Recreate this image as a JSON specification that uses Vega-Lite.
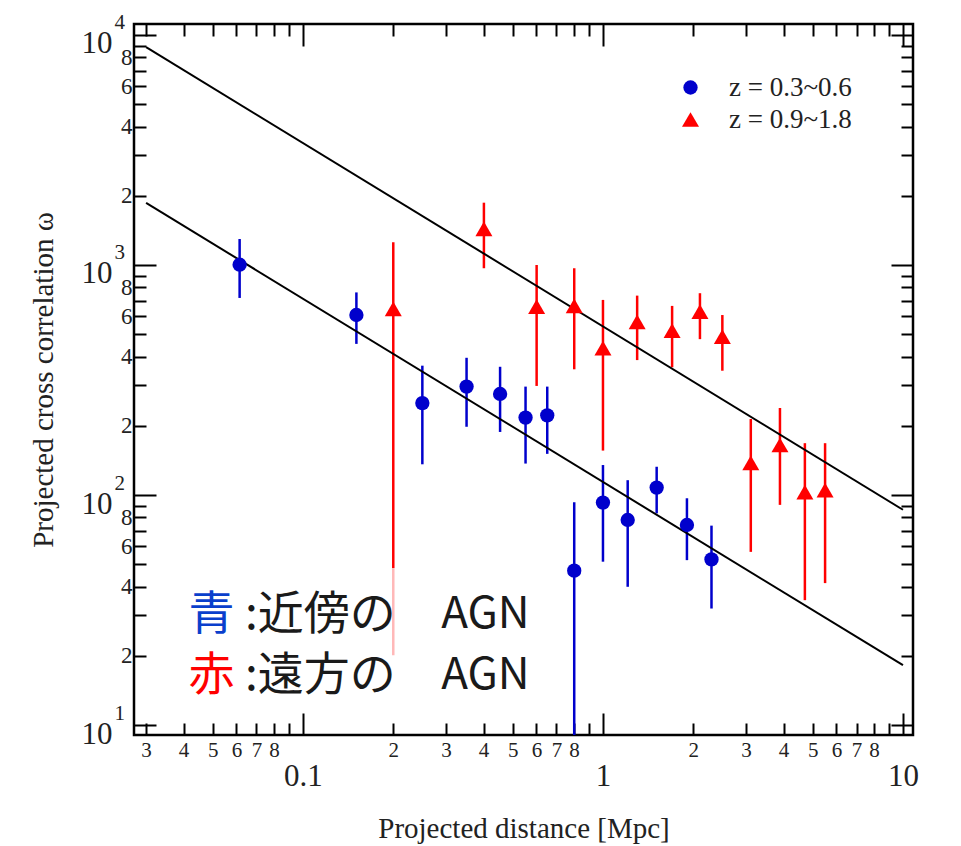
{
  "$schema": "https://vega.github.io/schema/vega-lite/v6.json",
  "width": 779,
  "height": 711,
  "autosize": {"type": "none"},
  "padding": {"left": 134, "top": 24, "right": 48, "bottom": 111},
  "background": "white",
  "config": {
    "font": "Liberation Serif",
    "view": {"stroke": "black", "strokeWidth": 2.5},
    "axis": {
      "grid": false, "domain": false, "tickColor": "black", "tickWidth": 2,
      "labelOverlap": false, "labelFlush": false, "labelBound": false,
      "labelColor": "#222", "labelFont": "Liberation Serif",
      "titleFont": "Liberation Serif", "titleColor": "#222", "titleFontWeight": "normal"
    }
  },
  "datasets": {
    "obs": [
      {"z": "z = 0.3~0.6", "r": 0.0615, "w": 1003, "lo": 719, "hi": 1297},
      {"z": "z = 0.3~0.6", "r": 0.1507, "w": 606, "lo": 454, "hi": 760},
      {"z": "z = 0.3~0.6", "r": 0.250, "w": 251, "lo": 136, "hi": 365},
      {"z": "z = 0.3~0.6", "r": 0.351, "w": 296, "lo": 198, "hi": 395},
      {"z": "z = 0.3~0.6", "r": 0.454, "w": 275, "lo": 188, "hi": 361},
      {"z": "z = 0.3~0.6", "r": 0.552, "w": 217, "lo": 137, "hi": 296},
      {"z": "z = 0.3~0.6", "r": 0.652, "w": 222, "lo": 151, "hi": 296},
      {"z": "z = 0.3~0.6", "r": 0.802, "w": 46.9, "lo": 5, "hi": 92.9},
      {"z": "z = 0.3~0.6", "r": 1.0, "w": 92.7, "lo": 51.3, "hi": 135},
      {"z": "z = 0.3~0.6", "r": 1.209, "w": 77.9, "lo": 39.9, "hi": 116},
      {"z": "z = 0.3~0.6", "r": 1.51, "w": 107.7, "lo": 83.2, "hi": 132.7},
      {"z": "z = 0.3~0.6", "r": 1.905, "w": 74.1, "lo": 52.1, "hi": 96.8},
      {"z": "z = 0.3~0.6", "r": 2.30, "w": 52.5, "lo": 32.1, "hi": 73.6},
      {"z": "z = 0.9~1.8", "r": 0.200, "w": 644, "lo": 20.1, "hi": 1256},
      {"z": "z = 0.9~1.8", "r": 0.401, "w": 1435, "lo": 968, "hi": 1866},
      {"z": "z = 0.9~1.8", "r": 0.601, "w": 659, "lo": 298, "hi": 1000},
      {"z": "z = 0.9~1.8", "r": 0.802, "w": 664, "lo": 352, "hi": 968},
      {"z": "z = 0.9~1.8", "r": 1.0, "w": 435, "lo": 156, "hi": 705},
      {"z": "z = 0.9~1.8", "r": 1.30, "w": 566, "lo": 386, "hi": 736},
      {"z": "z = 0.9~1.8", "r": 1.70, "w": 518, "lo": 359, "hi": 664},
      {"z": "z = 0.9~1.8", "r": 2.105, "w": 627, "lo": 476, "hi": 754},
      {"z": "z = 0.9~1.8", "r": 2.50, "w": 488, "lo": 347, "hi": 606},
      {"z": "z = 0.9~1.8", "r": 3.11, "w": 138, "lo": 56.6, "hi": 214},
      {"z": "z = 0.9~1.8", "r": 3.89, "w": 165, "lo": 90.6, "hi": 239},
      {"z": "z = 0.9~1.8", "r": 4.71, "w": 103, "lo": 34.9, "hi": 168},
      {"z": "z = 0.9~1.8", "r": 5.5, "w": 105, "lo": 41.4, "hi": 168}
    ],
    "fit": [
      {"fit": "near", "r": 0.03, "w": 1862},
      {"fit": "near", "r": 10, "w": 18.2},
      {"fit": "far", "r": 0.03, "w": 8850},
      {"fit": "far", "r": 10, "w": 86.3}
    ],
    "box": [
      {"r1": 0.04, "r2": 0.55, "w1": 12.5, "w2": 48.2}
    ],
    "notes": [
      {"kind": "blue", "r": 0.0415, "w": 30.1, "text": "青"},
      {"kind": "red", "r": 0.0415, "w": 16.3, "text": "赤"},
      {"kind": "jp", "r": 0.0641, "w": 30.1, "text": ":近傍の"},
      {"kind": "jp", "r": 0.0641, "w": 16.3, "text": ":遠方の"},
      {"kind": "latin", "r": 0.289, "w": 30.1, "text": "AGN"},
      {"kind": "latin", "r": 0.289, "w": 16.3, "text": "AGN"}
    ]
  },
  "layer": [
    {
      "data": {"name": "obs"},
      "transform": [{"filter": "datum.z == 'z = 0.3~0.6'"}],
      "mark": {"type": "rule", "color": "#0000CC", "strokeWidth": 2.5, "clip": true},
      "encoding": {
        "x": {"field": "r", "type": "quantitative", "scale": {"type": "log", "domain": [0.02734, 10.8]},
          "axis": {"orient": "bottom", "values": [0.03,0.04,0.05,0.06,0.07,0.08,0.09,0.2,0.3,0.4,0.5,0.6,0.7,0.8,0.9,2,3,4,5,6,7,8,9],
            "tickSize": -12, "labelPadding": 16, "labelFontSize": 21, "labelBaseline": "top",
            "labelExpr": "round(datum.value / pow(10, floor(log(datum.value) / LN10 + 0.000001))) == 9 ? '' : '' + round(datum.value / pow(10, floor(log(datum.value) / LN10 + 0.000001)))",
            "title": null}},
        "y": {"field": "lo", "type": "quantitative", "scale": {"type": "log", "domain": [9.05, 11162]},
          "axis": {"orient": "left", "values": [20,30,40,50,60,70,80,90,200,300,400,500,600,700,800,900,2000,3000,4000,5000,6000,7000,8000,9000],
            "tickSize": -12, "labelPadding": 14, "labelFontSize": 23,
            "labelExpr": "round(datum.value / pow(10, floor(log(datum.value) / LN10 + 0.000001))) % 2 == 0 ? '' + round(datum.value / pow(10, floor(log(datum.value) / LN10 + 0.000001))) : ''",
            "title": "Projected cross correlation  ω", "titleFontSize": 29, "titleAngle": -90,
            "titleX": -82, "titleY": 355.5, "titleBaseline": "alphabetic", "titleAlign": "center"}},
        "y2": {"field": "hi"}
      }
    },
    {
      "data": {"name": "obs"},
      "transform": [{"filter": "datum.z == 'z = 0.9~1.8'"}],
      "mark": {"type": "rule", "color": "#FF0000", "strokeWidth": 2.5, "clip": true},
      "encoding": {
        "x": {"field": "r", "type": "quantitative", "scale": {"type": "log", "domain": [0.02734, 10.8]},
          "axis": {"orient": "bottom", "values": [0.1, 1, 10], "tickSize": -22, "labelPadding": 48, "labelFontSize": 31, "labelBaseline": "top",
            "labelExpr": "datum.value < 0.5 ? '0.1' : datum.value < 5 ? '1' : '10'",
            "title": "Projected distance [Mpc]", "titleFontSize": 29, "titleY": 102, "titleBaseline": "alphabetic"}},
        "y": {"field": "lo", "type": "quantitative", "scale": {"type": "log", "domain": [9.05, 11162]},
          "axis": {"orient": "left", "values": [10, 100, 1000, 10000], "tickSize": -22, "labelPadding": 44, "labelFontSize": 31,
            "labelOffset": 9, "labelExpr": "'10'", "title": null}},
        "y2": {"field": "hi"}
      }
    },
    {
      "data": {"name": "fit"},
      "mark": {"type": "line", "color": "black", "strokeWidth": 2},
      "encoding": {
        "x": {"field": "r", "type": "quantitative", "scale": {"type": "log", "domain": [0.02734, 10.8]},
          "axis": {"orient": "top", "values": [0.03,0.04,0.05,0.06,0.07,0.08,0.09,0.2,0.3,0.4,0.5,0.6,0.7,0.8,0.9,2,3,4,5,6,7,8,9],
            "tickSize": -12, "labels": false, "title": null}},
        "y": {"field": "w", "type": "quantitative", "scale": {"type": "log", "domain": [9.05, 11162]},
          "axis": {"orient": "left", "values": [10, 100, 1000, 10000], "ticks": false, "labelPadding": 20, "labelAlign": "left",
            "labelFontSize": 21, "labelOffset": -12,
            "labelExpr": "'' + round(log(datum.value) / LN10)", "title": null}},
        "detail": {"field": "fit"}
      }
    },
    {
      "data": {"name": "obs"},
      "mark": {"type": "point", "filled": true, "opacity": 1},
      "encoding": {
        "x": {"field": "r", "type": "quantitative", "scale": {"type": "log", "domain": [0.02734, 10.8]},
          "axis": {"orient": "top", "values": [0.1, 1, 10], "tickSize": -22, "labels": false, "title": null}},
        "y": {"field": "w", "type": "quantitative", "scale": {"type": "log", "domain": [9.05, 11162]},
          "axis": {"orient": "right", "values": [20,30,40,50,60,70,80,90,200,300,400,500,600,700,800,900,2000,3000,4000,5000,6000,7000,8000,9000],
            "tickSize": -12, "labels": false, "title": null}},
        "color": {"field": "z", "type": "nominal",
          "scale": {"domain": ["z = 0.3~0.6", "z = 0.9~1.8"], "range": ["#0000CC", "#FF0000"]},
          "legend": {"title": null, "orient": "none", "legendX": 543, "legendY": 50, "padding": 0,
            "labelFont": "Liberation Serif", "labelFontSize": 27, "labelColor": "#222", "labelOffset": 25, "rowPadding": 4}},
        "shape": {"field": "z", "type": "nominal",
          "scale": {"domain": ["z = 0.3~0.6", "z = 0.9~1.8"], "range": ["circle", "triangle-up"]}},
        "size": {"field": "z", "type": "nominal",
          "scale": {"domain": ["z = 0.3~0.6", "z = 0.9~1.8"], "range": [205, 289]}}
      }
    },
    {
      "data": {"name": "box"},
      "mark": {"type": "rect", "fill": "white", "opacity": 0.72},
      "encoding": {
        "x": {"field": "r1", "type": "quantitative", "scale": {"type": "log", "domain": [0.02734, 10.8]}, "axis": null},
        "x2": {"field": "r2"},
        "y": {"field": "w1", "type": "quantitative", "scale": {"type": "log", "domain": [9.05, 11162]},
          "axis": {"orient": "right", "values": [10, 100, 1000, 10000], "tickSize": -22, "labels": false, "title": null}},
        "y2": {"field": "w2"}
      }
    },
    {
      "data": {"name": "notes"},
      "transform": [{"filter": "datum.kind == 'blue'"}],
      "mark": {"type": "text", "font": "Noto Sans CJK JP", "fontSize": 46, "align": "left", "baseline": "middle", "color": "#0A3FCC"},
      "encoding": {
        "x": {"field": "r", "type": "quantitative", "scale": {"type": "log", "domain": [0.02734, 10.8]}, "axis": null},
        "y": {"field": "w", "type": "quantitative", "scale": {"type": "log", "domain": [9.05, 11162]}, "axis": null},
        "text": {"field": "text"}
      }
    },
    {
      "data": {"name": "notes"},
      "transform": [{"filter": "datum.kind == 'red'"}],
      "mark": {"type": "text", "font": "Noto Sans CJK JP", "fontSize": 46, "align": "left", "baseline": "middle", "color": "#FF0000"},
      "encoding": {
        "x": {"field": "r", "type": "quantitative", "scale": {"type": "log", "domain": [0.02734, 10.8]}, "axis": null},
        "y": {"field": "w", "type": "quantitative", "scale": {"type": "log", "domain": [9.05, 11162]}, "axis": null},
        "text": {"field": "text"}
      }
    },
    {
      "data": {"name": "notes"},
      "transform": [{"filter": "datum.kind == 'jp'"}],
      "mark": {"type": "text", "font": "Noto Sans CJK JP", "fontSize": 46, "align": "left", "baseline": "middle", "color": "#1a1a1a"},
      "encoding": {
        "x": {"field": "r", "type": "quantitative", "scale": {"type": "log", "domain": [0.02734, 10.8]}, "axis": null},
        "y": {"field": "w", "type": "quantitative", "scale": {"type": "log", "domain": [9.05, 11162]}, "axis": null},
        "text": {"field": "text"}
      }
    },
    {
      "data": {"name": "notes"},
      "transform": [{"filter": "datum.kind == 'latin'"}],
      "mark": {"type": "text", "font": "Noto Sans CJK JP", "fontSize": 44, "align": "left", "baseline": "middle", "color": "#1a1a1a"},
      "encoding": {
        "x": {"field": "r", "type": "quantitative", "scale": {"type": "log", "domain": [0.02734, 10.8]}, "axis": null},
        "y": {"field": "w", "type": "quantitative", "scale": {"type": "log", "domain": [9.05, 11162]}, "axis": null},
        "text": {"field": "text"}
      }
    }
  ],
  "resolve": {"axis": {"x": "independent", "y": "independent"}}
}
